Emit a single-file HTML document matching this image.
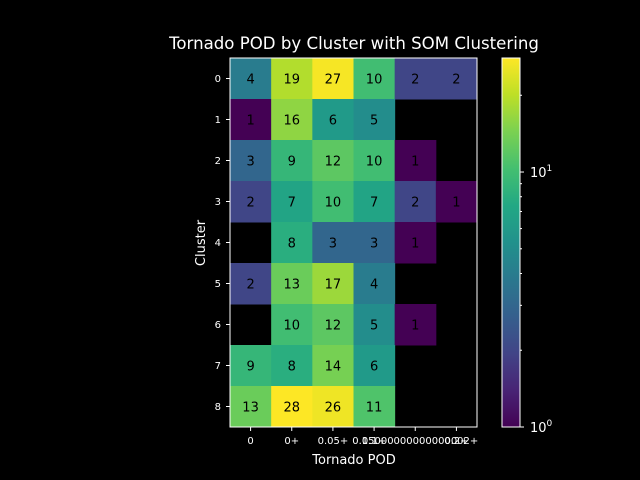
<!DOCTYPE html>
<html><head><meta charset="utf-8">
<style>
body{margin:0;background:#000;}
svg{display:block;font-family:"DejaVu Sans","Liberation Sans",sans-serif;}
</style></head>
<body>
<svg id="chart" width="640" height="480" viewBox="0 0 640 480">
<rect width="640" height="480" fill="#000"/>
<text x="354" y="49" fill="#fff" font-size="16.6" text-anchor="middle">Tornado POD by Cluster with SOM Clustering</text>
<text x="354" y="464" fill="#fff" font-size="13" text-anchor="middle">Tornado POD</text>
<text x="205" y="243" fill="#fff" font-size="13" text-anchor="middle" transform="rotate(-90 205 243)">Cluster</text>
<g id="cells"></g>
<rect x="230" y="58" width="247" height="369" fill="none" stroke="#fff" stroke-width="1"/>
<g id="xt"></g><g id="yt"></g>
<defs><linearGradient id="cbg" x1="0" y1="1" x2="0" y2="0"></linearGradient></defs>
<rect x="502" y="58" width="18" height="369" fill="url(#cbg)" stroke="#fff" stroke-width="1"/>
<g id="cbt"></g>
</svg>
<script>
const xLabels=["0","0+","0.05+","0.1+","0.15000000000000002+","0.2+"];
const yLabels=["0","1","2","3","4","5","6","7","8"];
const row0=[4,19,27,10,2,2];
const row1=[1,16,6,5,0,0];
const row2=[3,9,12,10,1,0];
const row3=[2,7,10,7,2,1];
const row4=[0,8,3,3,1,0];
const row5=[2,13,17,4,0,0];
const row6=[0,10,12,5,1,0];
const row7=[9,8,14,6,0,0];
const row8=[13,28,26,11,0,0];
const values=[row0,row1,row2,row3,row4,row5,row6,row7,row8];
const vmin=1,vmax=28;
const V=[[68,1,84],[72,36,117],[65,68,135],[53,95,141],[42,120,142],[33,145,140],[34,168,132],[68,191,112],[122,209,81],[189,223,38],[253,231,37]];
function viridis(t){t=Math.max(0,Math.min(1,t));const f=t*(V.length-1),i=Math.min(Math.floor(f),V.length-2),r=f-i;const c=V[i].map((a,k)=>Math.round(a+(V[i+1][k]-a)*r));return `rgb(${c})`;}
const NS="http://www.w3.org/2000/svg";
const X0=230,X1=477,Y0=58,Y1=427;
const cw=(X1-X0)/xLabels.length,ch=(Y1-Y0)/yLabels.length;
function xs(i){return X0+i*cw;}function ys(j){return Y0+j*ch;}
function norm(v){return Math.log10(v/vmin)/Math.log10(vmax/vmin);}
function cbY(v){return Y1-(Y1-Y0)*norm(v);}
function mk(tag,attrs,parent){const e=document.createElementNS(NS,tag);for(const k in attrs)e.setAttribute(k,attrs[k]);parent.appendChild(e);return e;}
const cells=document.getElementById('cells');
values.forEach((row,j)=>row.forEach((v,i)=>{
 if(v<=0)return;
 const t=norm(v);
 const r=mk('rect',{x:xs(i),y:ys(j),width:cw+0.5,height:ch+0.5,fill:viridis(t)},cells);
 
 
 const tx=mk('text',{x:xs(i)+cw/2,y:ys(j)+ch/2+5,'font-size':13,'text-anchor':'middle',fill:'#000'},cells);
 tx.textContent=v;
 
 
}));
const xt=document.getElementById('xt');
xLabels.forEach((l,i)=>{const cx=xs(i)+cw/2;
 const ln=mk('line',{x1:cx,x2:cx,y1:Y1,y2:Y1+4,stroke:'#fff'},xt);
 
 
 const t=mk('text',{x:cx,y:Y1+17,'font-size':10,'text-anchor':'middle',fill:'#fff'},xt);t.textContent=l;
 
 });
const yt=document.getElementById('yt');
yLabels.forEach((l,j)=>{const cy=ys(j)+ch/2;
 const ln=mk('line',{x1:X0-4,x2:X0,y1:cy,y2:cy,stroke:'#fff'},yt);
 
 
 const t=mk('text',{x:X0-9,y:cy+3.5,'font-size':10,'text-anchor':'end',fill:'#fff'},yt);t.textContent=l;
 
 });
const g=document.getElementById('cbg');
for(let k=0;k<=20;k++){mk('stop',{offset:k/20,'stop-color':viridis(k/20)},g);}
const cbt=document.getElementById('cbt');
[2,3,4,5,6,7,8,9,20].forEach(v=>{const y=cbY(v);const l=mk('line',{x1:520,x2:522,y1:y,y2:y,stroke:'#fff'},cbt);
 
 });
[[1,'0'],[10,'1']].forEach(([v,e])=>{const y=cbY(v);
 const l=mk('line',{x1:520,x2:524,y1:y,y2:y,stroke:'#fff'},cbt);
 
 
 const t=mk('text',{x:530,y:y+5,'font-size':13,fill:'#fff'},cbt);
 t.innerHTML='10<tspan dy="-6" font-size="9">'+e+'</tspan>';
 
 });
</script>
</body></html>
